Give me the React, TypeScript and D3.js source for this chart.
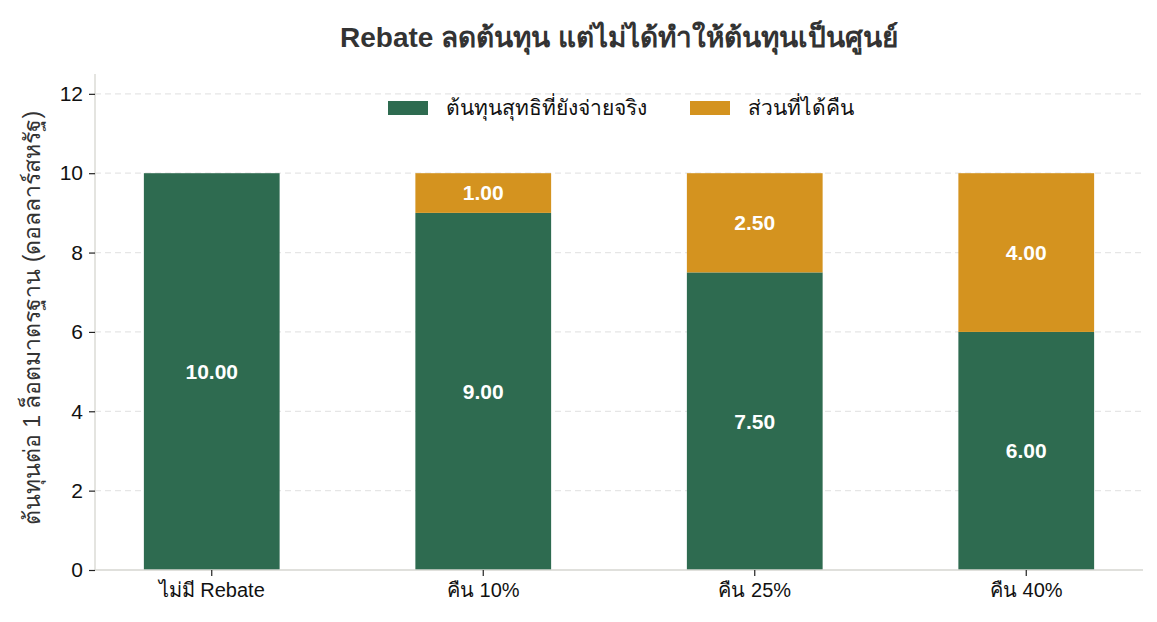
import { useEffect, useRef } from 'react';
import * as d3 from 'd3';

const categories = ['ไม่มี Rebate', 'คืน 10%', 'คืน 25%', 'คืน 40%'];
const netCost = [10, 9, 7.5, 6];
const rebate = [0, 1, 2.5, 4];
const seriesNames = ['ต้นทุนสุทธิที่ยังจ่ายจริง', 'ส่วนที่ได้คืน'];
const yTicks = [0, 2, 4, 6, 8, 10, 12];

const WIDTH = 1157;
const HEIGHT = 622;
const MARGIN = { top: 74, right: 14, bottom: 52, left: 95 };
const GREEN = '#2e6b50';
const ORANGE = '#d4931f';
const FONT = "'Liberation Sans', Arial, 'Noto Sans', 'DejaVu Sans', sans-serif";

export default function App() {
  const svgRef = useRef<SVGSVGElement>(null);

  useEffect(() => {
    const svg = svgRef.current;
    if (!svg) return;
    d3.select(svg).selectAll('*').remove();

    const width = WIDTH - MARGIN.left - MARGIN.right;
    const height = HEIGHT - MARGIN.top - MARGIN.bottom;

    const root = d3
      .select(svg)
      .append('g')
      .attr('transform', `translate(${MARGIN.left},${MARGIN.top})`);

    const x = d3.scaleBand<string>().domain(categories).range([0, width]).paddingInner(0.5).paddingOuter(0.18);
    const y = d3.scaleLinear().domain([0, 12.5]).range([height, 0]);

    // grid
    root
      .selectAll('.grid')
      .data(yTicks.filter((d) => d > 0))
      .enter()
      .append('line')
      .attr('x1', 0)
      .attr('x2', width)
      .attr('y1', (d) => y(d))
      .attr('y2', (d) => y(d))
      .attr('stroke', '#e6e6e6')
      .attr('stroke-width', 1.2)
      .attr('stroke-dasharray', '6,4');

    // stacked bars
    const segments = categories.flatMap((c, i) => [
      { cat: c, y0: 0, y1: netCost[i], value: netCost[i], color: GREEN },
      { cat: c, y0: netCost[i], y1: netCost[i] + rebate[i], value: rebate[i], color: ORANGE },
    ]).filter((s) => s.value > 0);

    root
      .selectAll('.bar')
      .data(segments)
      .enter()
      .append('rect')
      .attr('x', (d) => x(d.cat)!)
      .attr('width', x.bandwidth())
      .attr('y', (d) => y(d.y1))
      .attr('height', (d) => y(d.y0) - y(d.y1))
      .attr('fill', (d) => d.color);

    root
      .selectAll('.lbl')
      .data(segments)
      .enter()
      .append('text')
      .attr('x', (d) => x(d.cat)! + x.bandwidth() / 2)
      .attr('y', (d) => y((d.y0 + d.y1) / 2))
      .attr('dy', '0.35em')
      .attr('text-anchor', 'middle')
      .attr('fill', '#ffffff')
      .attr('font-size', '21px')
      .attr('font-weight', 'bold')
      .attr('font-family', FONT)
      .text((d) => d.value.toFixed(2));

    // axes
    const yAxis = root.append('g').call(d3.axisLeft(y).tickValues(yTicks).tickSize(6).tickPadding(6));
    yAxis.select('.domain').attr('stroke', '#d6d6d0').attr('stroke-width', 1.3).attr('d', `M0,${height}V0`);
    yAxis.selectAll('.tick line').attr('stroke', '#222').attr('stroke-width', 1.2);
    yAxis.selectAll('.tick text').attr('font-size', '21px').attr('font-family', FONT).attr('fill', '#111');

    const xAxis = root
      .append('g')
      .attr('transform', `translate(0,${height})`)
      .call(d3.axisBottom(x).tickSize(6).tickPadding(7));
    xAxis.select('.domain').attr('stroke', '#d6d6d0').attr('stroke-width', 1.3).attr('d', `M0,0H${width}`);
    xAxis.selectAll('.tick line').attr('stroke', '#222').attr('stroke-width', 1.2);
    xAxis.selectAll('.tick text').attr('font-size', '20px').attr('font-family', FONT).attr('fill', '#111');

    // y label
    d3.select(svg)
      .append('text')
      .attr('transform', `translate(40,${MARGIN.top + height / 2 - 4}) rotate(-90)`)
      .attr('text-anchor', 'middle')
      .attr('font-size', '23px')
      .attr('font-family', FONT)
      .attr('fill', '#333')
      .text('ต้นทุนต่อ 1 ล็อตมาตรฐาน (ดอลลาร์สหรัฐ)');

    // title
    d3.select(svg)
      .append('text')
      .attr('x', MARGIN.left + width / 2)
      .attr('y', 47)
      .attr('text-anchor', 'middle')
      .attr('font-size', '28px')
      .attr('font-weight', 'bold')
      .attr('font-family', FONT)
      .attr('fill', '#333')
      .text('Rebate ลดต้นทุน แต่ไม่ได้ทำให้ต้นทุนเป็นศูนย์');

    // legend
    const legendX = [388, 690];
    const legend = d3
      .select(svg)
      .selectAll('.legend')
      .data(seriesNames)
      .enter()
      .append('g')
      .attr('transform', (_, i) => `translate(${legendX[i]},101)`);
    legend
      .append('rect')
      .attr('width', 40)
      .attr('height', 14)
      .attr('fill', (_, i) => [GREEN, ORANGE][i]);
    legend
      .append('text')
      .attr('x', 58)
      .attr('y', 7)
      .attr('dy', '0.35em')
      .attr('font-size', '21px')
      .attr('font-family', FONT)
      .attr('fill', '#111')
      .text((d) => d);
  }, []);

  return (
    <div style={{ width: WIDTH, height: HEIGHT }}>
      <style>{`body{margin:0}`}</style>
      <svg ref={svgRef} width={WIDTH} height={HEIGHT} style={{ display: 'block', background: '#fff' }} />
    </div>
  );
}
